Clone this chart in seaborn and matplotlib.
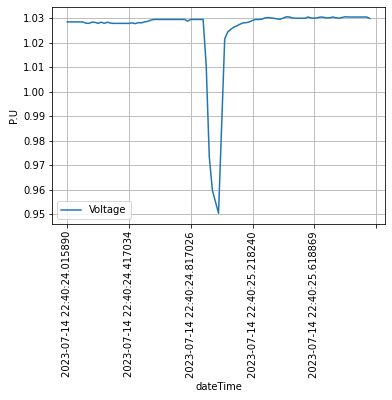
import matplotlib
matplotlib.use("Agg")
import matplotlib.pyplot as plt
import seaborn as sns
import pandas as pd

voltage = [
    1.0286, 1.0286, 1.0286, 1.0286, 1.0286, 1.0286, 1.0281, 1.0280, 1.0285, 1.0284,
    1.0280, 1.0285, 1.0280, 1.0285, 1.0281, 1.0280, 1.0280, 1.0280, 1.0280, 1.0280,
    1.0280, 1.0282, 1.0279, 1.0283, 1.0282, 1.0286, 1.0288, 1.0293, 1.0296, 1.0296,
    1.0296, 1.0296, 1.0296, 1.0296, 1.0296, 1.0296, 1.0296, 1.0296, 1.0296, 1.0289,
    1.0296, 1.0296, 1.0296, 1.0296, 1.0296, 1.0109, 0.9734, 0.9598, 0.9550, 0.9503,
    0.9860, 1.0217, 1.0245, 1.0256, 1.0265, 1.0270, 1.0277, 1.0282, 1.0283, 1.0286,
    1.0292, 1.0296, 1.0296, 1.0297, 1.0302, 1.0304, 1.0302, 1.0301, 1.0298, 1.0297,
    1.0302, 1.0307, 1.0306, 1.0302, 1.0301, 1.0301, 1.0301, 1.0301, 1.0306, 1.0302,
    1.0301, 1.0303, 1.0306, 1.0305, 1.0302, 1.0303, 1.0306, 1.0303, 1.0301, 1.0304,
    1.0307, 1.0306, 1.0306, 1.0306, 1.0306, 1.0306, 1.0306, 1.0306, 1.0300,
]

tick_positions = [0, 20, 40, 60, 80, 100]
tick_labels = [
    "2023-07-14 22:40:24.015890",
    "2023-07-14 22:40:24.417034",
    "2023-07-14 22:40:24.817026",
    "2023-07-14 22:40:25.218240",
    "2023-07-14 22:40:25.618869",
    "",
]

df = pd.DataFrame({"idx": range(len(voltage)), "Voltage": voltage})

DPI = 72
fig = plt.figure(figsize=(392 / DPI, 400 / DPI), dpi=DPI)
ax = fig.add_axes([0.133, 0.44, 0.849, 0.5425])
sns.lineplot(data=df, x="idx", y="Voltage", ax=ax, label="Voltage", color="#1f77b4", linewidth=1.5)
ax.set_xticks(tick_positions)
ax.set_xticklabels(tick_labels, rotation=90)
ax.set_xlim(-4.9, 102.9)
ax.set_ylim(0.9459, 1.0347)
ax.grid(True, color="#b0b0b0", linewidth=0.8)
ax.set_xlabel("dateTime")
ax.set_ylabel("P.U")
ax.legend(loc="lower left")
fig.savefig("out.png", dpi=DPI)
